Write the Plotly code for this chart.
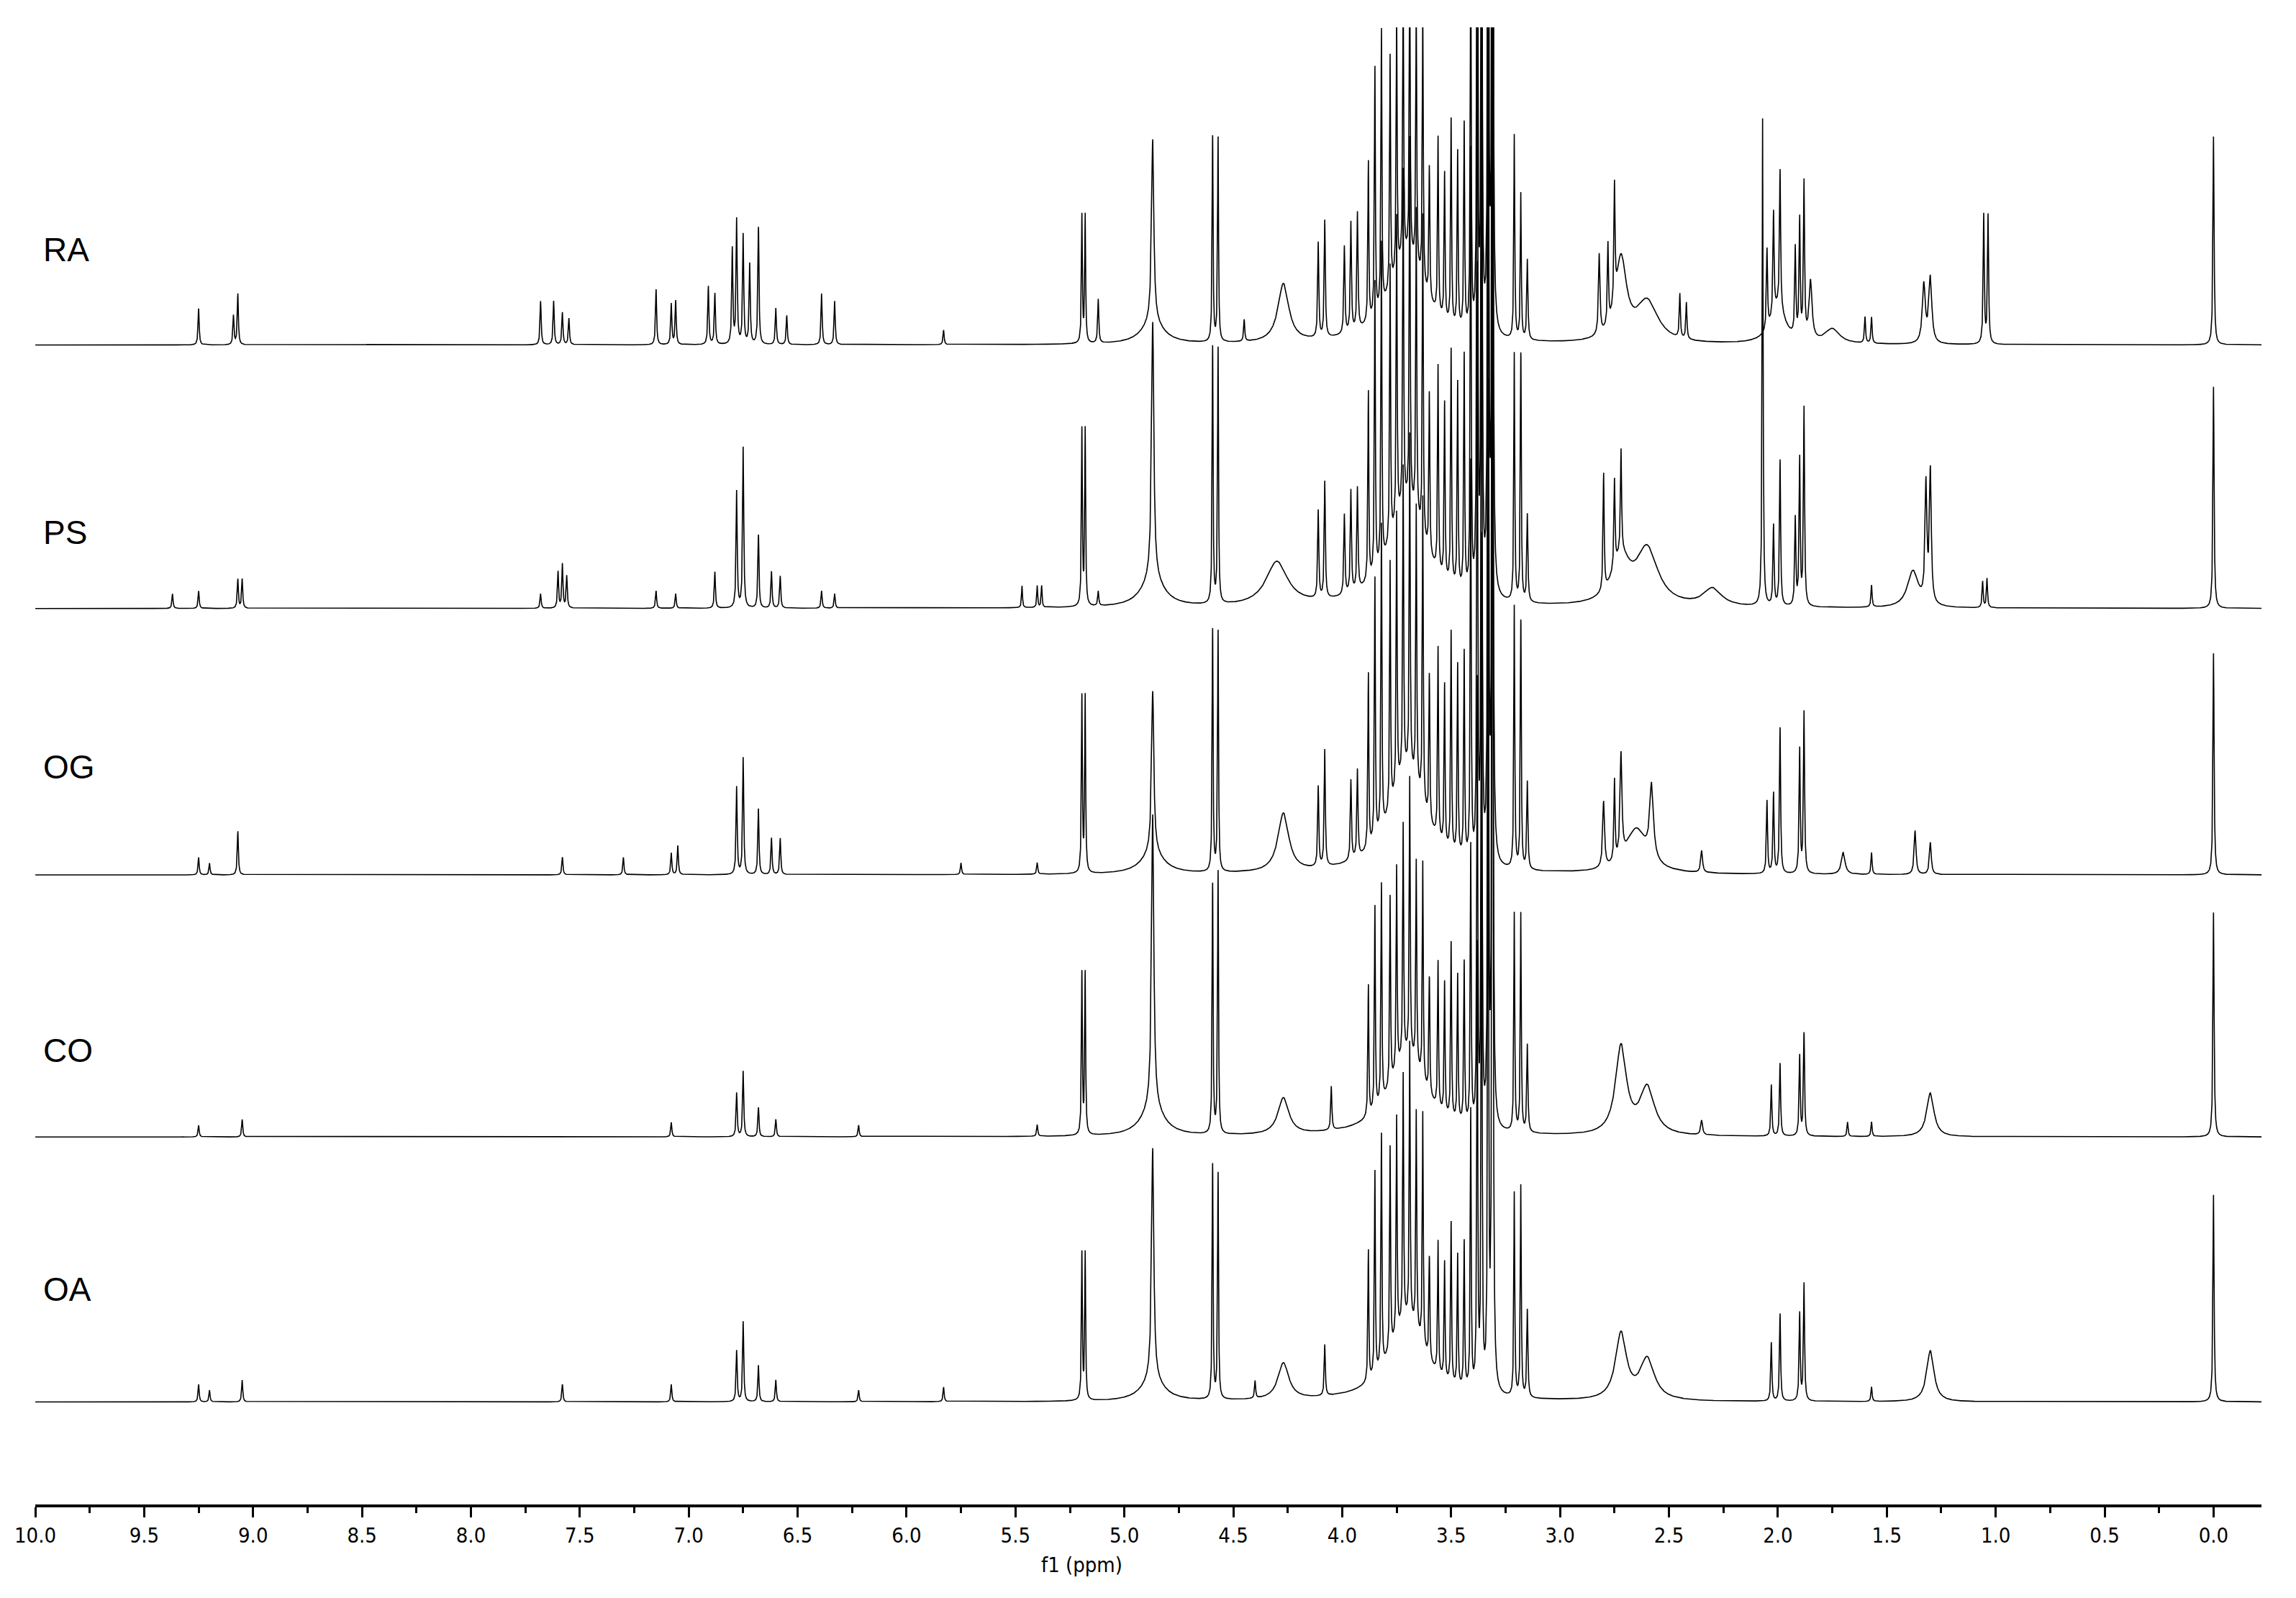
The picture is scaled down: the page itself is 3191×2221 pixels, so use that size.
import numpy as np
import plotly.graph_objects as go

# peak lists: (ppm, height, half-width) ; height in display units above baseline
ra_peaks = [(0.0, 143, .003), (1.035, 88, .003), (1.055, 88, .003), (1.30, 45, .008), (1.33, 40, .008),
            (1.57, 18, .003), (1.60, 18, .003), (1.75, 10, .04), (1.85, 40, .008), (1.88, 105, .003),
            (1.90, 80, .003), (1.92, 60, .003), (1.99, 95, .003), (2.02, 70, .003), (2.05, 55, .003),
            (2.00, 25, .04), (2.42, 25, .003), (2.45, 30, .003), (2.60, 28, .06), (2.72, 55, .03),
            (2.75, 80, .003), (2.78, 55, .003), (2.82, 55, .004), (3.15, 55, .003), (3.18, 100, .0025),
            (3.21, 140, .0025), (3.31, 900, .0025), (3.33, 600, .0025), (3.36, 500, .0025), (3.38, 450, .0025),
            (3.41, 280, .0025), (3.44, 140, .0025), (3.47, 120, .0025), (3.50, 140, .0025), (3.53, 100, .0025),
            (3.56, 120, .0025), (3.60, 90, .0025), (3.63, 190, .0025), (3.66, 180, .0025), (3.69, 205, .0025),
            (3.72, 190, .0025), (3.75, 180, .0025), (3.78, 160, .0025), (3.82, 190, .0025), (3.85, 170, .0025),
            (3.88, 110, .0025), (3.70, 60, .1), (3.93, 80, .003), (3.96, 75, .003), (3.99, 60, .003),
            (4.08, 80, .003), (4.11, 65, .003), (4.27, 40, .03), (4.45, 15, .003), (4.57, 140, .0025),
            (4.595, 140, .0025), (4.87, 125, .006), (4.87, 15, .06), (5.12, 30, .003), (5.18, 87, .0025),
            (5.195, 87, .0025), (5.83, 10, .003), (6.33, 30, .003), (6.39, 35, .003), (6.55, 20, .003),
            (6.60, 25, .003), (6.68, 80, .003), (6.72, 55, .003), (6.75, 75, .003), (6.78, 85, .003),
            (6.80, 65, .003), (6.88, 35, .003), (6.91, 40, .003), (7.06, 30, .003), (7.08, 28, .003),
            (7.15, 38, .003), (7.55, 18, .003), (7.58, 22, .003), (7.62, 30, .003), (7.68, 30, .003),
            (9.07, 35, .003), (9.09, 20, .003), (9.25, 25, .003)]

ps_peaks = [(0.0, 152, .003), (1.04, 20, .003), (1.06, 18, .003), (1.30, 90, .005), (1.32, 80, .005),
            (1.38, 25, .03), (1.57, 15, .003), (1.88, 135, .003), (1.90, 100, .003), (1.92, 60, .003),
            (1.99, 100, .003), (2.02, 55, .003), (2.07, 335, .0025), (2.30, 12, .05), (2.60, 38, .06),
            (2.72, 70, .003), (2.75, 60, .003), (2.80, 80, .003), (2.72, 30, .05), (3.15, 60, .003),
            (3.18, 170, .0025), (3.21, 170, .0025), (3.31, 900, .0025), (3.33, 700, .0025), (3.36, 600, .0025),
            (3.38, 500, .0025), (3.41, 300, .0025), (3.44, 160, .0025), (3.47, 140, .0025), (3.50, 160, .0025),
            (3.53, 120, .0025), (3.56, 140, .0025), (3.60, 110, .0025), (3.63, 220, .0025), (3.66, 210, .0025),
            (3.69, 250, .0025), (3.72, 230, .0025), (3.75, 210, .0025), (3.78, 190, .0025), (3.82, 220, .0025),
            (3.85, 200, .0025), (3.88, 130, .0025), (3.70, 70, .1), (3.93, 70, .003), (3.96, 70, .003),
            (3.99, 55, .003), (4.08, 80, .003), (4.11, 60, .003), (4.30, 30, .06), (4.57, 175, .0025),
            (4.595, 175, .0025), (4.87, 175, .006), (4.87, 20, .06), (5.12, 10, .003), (5.18, 120, .0025),
            (5.195, 120, .0025), (5.38, 15, .0025), (5.40, 15, .0025), (5.47, 15, .0025), (6.33, 10, .003),
            (6.39, 12, .003), (6.58, 22, .003), (6.62, 25, .003), (6.68, 50, .003), (6.75, 110, .003),
            (6.78, 80, .003), (6.88, 25, .003), (7.06, 10, .003), (7.15, 12, .003), (7.56, 22, .003),
            (7.58, 30, .003), (7.60, 25, .003), (7.68, 10, .003), (9.05, 20, .003), (9.07, 20, .003),
            (9.25, 12, .003), (9.37, 10, .003)]

og_peaks = [(0.0, 152, .003), (1.30, 22, .005), (1.37, 30, .005), (1.57, 15, .003), (1.70, 15, .01),
            (1.88, 110, .003), (1.90, 85, .003), (1.99, 100, .003), (2.02, 55, .003), (2.05, 50, .003),
            (2.35, 15, .005), (2.58, 50, .01), (2.72, 70, .005), (2.75, 55, .003), (2.80, 45, .005),
            (2.65, 30, .06), (3.15, 60, .003), (3.18, 170, .0025), (3.21, 180, .0025), (3.31, 900, .0025),
            (3.33, 600, .0025), (3.36, 500, .0025), (3.38, 400, .0025), (3.41, 270, .0025), (3.44, 140, .0025),
            (3.47, 130, .0025), (3.50, 150, .0025), (3.53, 110, .0025), (3.56, 130, .0025), (3.60, 100, .0025),
            (3.63, 210, .0025), (3.66, 190, .0025), (3.69, 230, .0025), (3.72, 210, .0025), (3.75, 190, .0025),
            (3.78, 170, .0025), (3.82, 210, .0025), (3.85, 180, .0025), (3.88, 120, .0025), (3.70, 70, .1),
            (3.93, 60, .003), (3.96, 55, .003), (4.08, 80, .003), (4.11, 55, .003), (4.27, 40, .03),
            (4.57, 165, .0025), (4.595, 165, .0025), (4.87, 110, .006), (4.87, 15, .06), (5.18, 120, .0025),
            (5.195, 120, .0025), (5.40, 8, .003), (5.75, 8, .003), (6.58, 25, .003), (6.62, 25, .003),
            (6.68, 45, .003), (6.75, 80, .003), (6.78, 60, .003), (7.05, 20, .003), (7.08, 15, .003),
            (7.30, 12, .003), (7.58, 12, .003), (9.07, 30, .003), (9.20, 8, .003), (9.25, 12, .003)]

co_peaks = [(0.0, 154, .003), (1.30, 30, .02), (1.57, 10, .003), (1.68, 10, .003), (1.88, 70, .003),
            (1.90, 55, .003), (1.99, 50, .003), (2.03, 35, .003), (2.35, 10, .005), (2.60, 32, .04),
            (2.72, 60, .03), (3.15, 60, .003), (3.18, 150, .0025), (3.21, 150, .0025), (3.31, 900, .0025),
            (3.33, 500, .0025), (3.36, 400, .0025), (3.38, 300, .0025), (3.41, 190, .0025), (3.44, 110, .0025),
            (3.47, 100, .0025), (3.50, 120, .0025), (3.53, 90, .0025), (3.56, 100, .0025), (3.60, 80, .0025),
            (3.63, 150, .0025), (3.66, 140, .0025), (3.69, 190, .0025), (3.72, 160, .0025), (3.75, 140, .0025),
            (3.78, 130, .0025), (3.82, 150, .0025), (3.85, 140, .0025), (3.88, 90, .0025), (3.70, 55, .1),
            (4.05, 30, .003), (4.27, 25, .03), (4.57, 180, .0025), (4.595, 170, .0025), (4.87, 200, .006),
            (4.87, 20, .06), (5.18, 110, .0025), (5.195, 110, .0025), (5.40, 8, .003), (6.22, 8, .003),
            (6.60, 12, .003), (6.68, 20, .003), (6.75, 45, .003), (6.78, 30, .003), (7.08, 10, .003),
            (9.05, 12, .003), (9.25, 8, .003)]

oa_peaks = [(0.0, 142, .003), (1.30, 35, .02), (1.57, 10, .003), (1.88, 80, .003), (1.90, 60, .003),
            (1.99, 60, .003), (2.03, 40, .003), (2.60, 28, .04), (2.72, 45, .03), (3.15, 60, .003),
            (3.18, 145, .0025), (3.21, 140, .0025), (3.31, 1000, .0025), (3.33, 500, .0025), (3.36, 400, .0025),
            (3.38, 300, .0025), (3.41, 190, .0025), (3.44, 100, .0025), (3.47, 90, .0025), (3.50, 110, .0025),
            (3.53, 80, .0025), (3.56, 90, .0025), (3.60, 70, .0025), (3.63, 160, .0025), (3.66, 150, .0025),
            (3.69, 190, .0025), (3.72, 170, .0025), (3.75, 150, .0025), (3.78, 140, .0025), (3.82, 160, .0025),
            (3.85, 140, .0025), (3.88, 90, .0025), (3.70, 55, .1), (4.08, 35, .003), (4.27, 25, .03),
            (4.40, 12, .003), (4.57, 155, .0025), (4.595, 160, .0025), (4.87, 158, .006), (4.87, 15, .06),
            (5.18, 100, .0025), (5.195, 100, .0025), (5.83, 10, .003), (6.22, 8, .003), (6.60, 15, .003),
            (6.68, 25, .003), (6.75, 55, .003), (6.78, 35, .003), (7.08, 12, .003), (7.58, 12, .003),
            (9.05, 15, .003), (9.20, 8, .003), (9.25, 12, .003)]

labels = ["RA", "PS", "OG", "CO", "OA"]
baselines = [792, 612, 430, 251, 70]
label_y = [857, 664, 504, 310, 147]
spectra = [ra_peaks, ps_peaks, og_peaks, co_peaks, oa_peaks]

ppm = np.arange(-0.22, 10.0, 0.0006)


def spectrum(peaks):
    y = np.zeros_like(ppm)
    for p, h, w in peaks:
        y += h * w**2 / ((ppm - p)**2 + w**2)
    return y


fig = go.Figure()
for name, base, peaks in zip(labels, baselines, spectra):
    fig.add_trace(go.Scatter(x=ppm, y=base + spectrum(peaks), mode="lines",
                             line=dict(color="black", width=1.6), name=name, showlegend=False))

for name, ly in zip(labels, label_y):
    fig.add_annotation(x=9.97, y=ly, text=name, showarrow=False, xanchor="left",
                       font=dict(family="Liberation Sans", size=46, color="black"))

fig.add_annotation(x=0.47, y=-0.05, xref="paper", yref="paper", text="f1 (ppm)", showarrow=False,
                   font=dict(family="DejaVu Sans Condensed", size=29, color="black"))

fig.update_layout(
    width=3191, height=2221, plot_bgcolor="white", paper_bgcolor="white",
    margin=dict(l=37, r=56, t=30, b=138),
    xaxis=dict(range=[10.0, -0.22], tickmode="linear", tick0=0, dtick=0.5, tickformat=".1f",
               ticks="outside", ticklen=14, tickwidth=3, tickcolor="black", showgrid=False,
               zeroline=False, showline=True, linewidth=4, linecolor="black",
               minor=dict(dtick=0.25, ticks="outside", ticklen=8, tickwidth=3, tickcolor="black"),
               tickfont=dict(family="DejaVu Sans Condensed", size=29, color="black")),
    yaxis=dict(range=[0, 1009], visible=False),
)

fig.write_html("out.html")
